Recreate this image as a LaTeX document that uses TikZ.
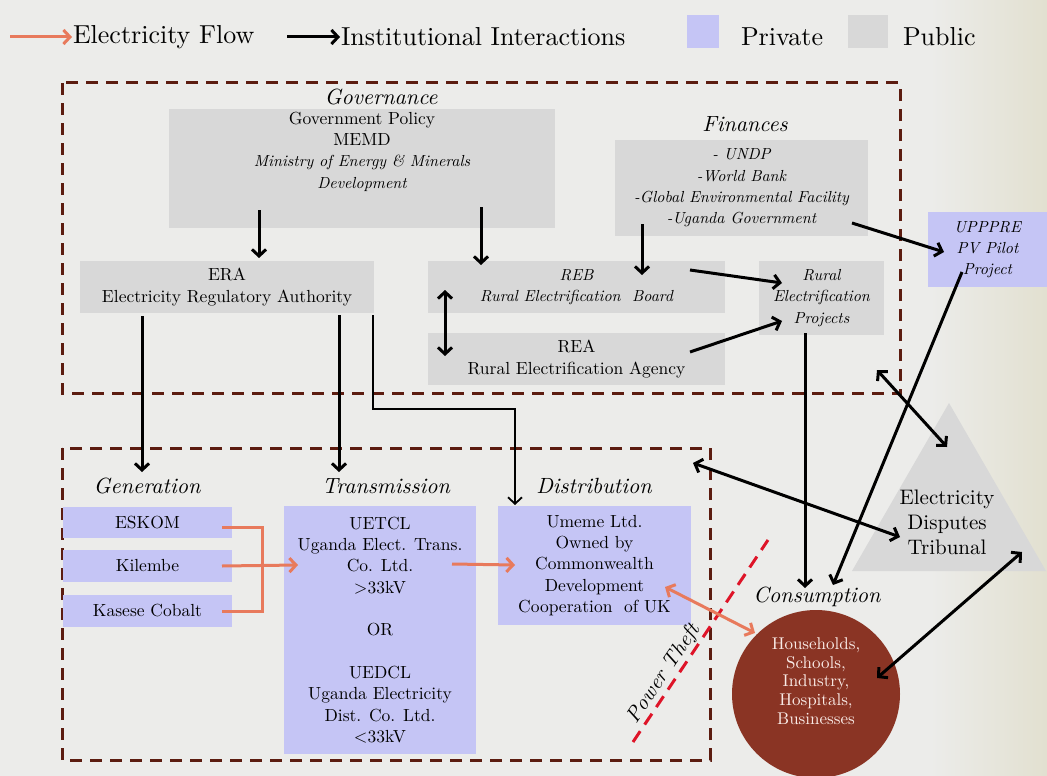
\documentclass[tikz,border=0pt]{standalone}
\usepackage{fontspec}
\setmainfont{lmroman10}[Extension=.otf, UprightFont=*-regular, ItalicFont=*-italic, BoldFont=*-bold, BoldItalicFont=*-bolditalic]
\usetikzlibrary{arrows.meta}
\definecolor{bg}{RGB}{236,236,234}
\definecolor{beige}{RGB}{226,224,208}
\definecolor{pub}{RGB}{216,216,216}
\definecolor{priv}{RGB}{197,197,245}
\definecolor{elec}{RGB}{232,122,92}
\definecolor{framec}{RGB}{92,28,16}
\definecolor{theft}{RGB}{222,20,40}
\definecolor{cons}{RGB}{138,52,36}
\definecolor{constext}{RGB}{250,236,232}
\newcommand{\myit}{\fontsize{16}{21.3}\selectfont\itshape}
\begin{document}
\begin{tikzpicture}[x=1pt,y=-1pt,
  >={Straight Barb[length=6.5pt,width=14pt]},
  every node/.style={inner sep=0pt, outer sep=0pt},
  pubbox/.style={fill=pub, draw=none},
  privbox/.style={fill=priv, draw=none},
  boxtxt/.style={align=center, font=\fontsize{17.5}{21.3}\selectfont},
  head/.style={font=\fontsize{22}{26}\selectfont\itshape},
  legtxt/.style={anchor=west, font=\fontsize{26}{30}\selectfont},
  frame/.style={draw=framec, line width=3pt, dash pattern=on 12pt off 8pt},
  inst/.style={draw=black, line width=3pt},
  thin/.style={draw=black, line width=1.8pt},
  flow/.style={draw=elec, line width=3pt}
]
\useasboundingbox (0,0) rectangle (1047,776);
\fill[bg] (0,0) rectangle (1047,776);
\shade[left color=bg, right color=beige] (930,0) rectangle (1047,776);

% legend
\coordinate (lo1) at (10,37);
\coordinate (lo2) at (72,37);
\draw[flow,->] (lo1) -- (lo2);
\node[legtxt] (legflow) at (73,37) {Electricity Flow};
\coordinate (lb1) at (287,37);
\coordinate (lb2) at (340,37);
\draw[inst,->] (lb1) -- (lb2);
\node[legtxt] (leginst) at (341,37) {Institutional Interactions};
\node[privbox, minimum width=32, minimum height=33] (legpriv) at (703,31.5) {};
\node[legtxt] (legprivt) at (741,37) {Private};
\node[pubbox, minimum width=40, minimum height=33] (legpub) at (868,31.5) {};
\node[legtxt] (legpubt) at (903,37) {Public};

% frames
\draw[frame] (62,83) rectangle (900,393);
\draw[frame] (62,448) rectangle (710,760);

% governance
\node[head] (govhead) at (381,97) {Governance};
\node[pubbox, minimum width=386, minimum height=119] (gov) at (362,168.5) {};
\node[boxtxt, anchor=north] (govtxt) at (362,112) {Government Policy\\ MEMD\\ {\myit Ministry of Energy \& Minerals}\\ {\myit Development}};
\node[head] (finhead) at (745,124) {Finances};
\node[pubbox, boxtxt, minimum width=253, minimum height=96] (fin) at (741.5,188) {\myit - UNDP\\ \myit -World Bank\\ \myit -Global Environmental Facility\\ \myit -Uganda Government};
\node[pubbox, boxtxt, minimum width=294, minimum height=52] (era) at (227,287) {ERA\\ Electricity Regulatory Authority};
\node[pubbox, boxtxt, minimum width=297, minimum height=52] (reb) at (576.5,287) {\myit REB\\ \myit Rural Electrification\ \ Board};
\node[pubbox, boxtxt, minimum width=297, minimum height=52] (rea) at (576.5,359) {REA\\ Rural Electrification Agency};
\node[pubbox, boxtxt, minimum width=125, minimum height=74] (rep) at (821.5,298) {\myit Rural\\ \myit Electrification\\ \myit Projects};
\node[privbox, boxtxt, minimum width=119, minimum height=75] (upp) at (987.5,249.5) {\myit UPPPRE\\ \myit PV Pilot\\ \myit Project};

% supply chain
\node[head] (genhead) at (147,486) {Generation};
\node[head] (trahead) at (386,486) {Transmission};
\node[head] (dishead) at (594,486) {Distribution};
\node[privbox, boxtxt, minimum width=169, minimum height=31] (eskom) at (147.5,522.5) {ESKOM};
\node[privbox, boxtxt, minimum width=169, minimum height=32] (kil) at (147.5,566) {Kilembe};
\node[privbox, boxtxt, minimum width=169, minimum height=32] (kas) at (147.5,611) {Kasese Cobalt};
\node[privbox, boxtxt, minimum width=192, minimum height=248] (uetcl) at (380,630) {UETCL\\ Uganda Elect. Trans.\\ Co. Ltd.\\ >33kV\\[21.3pt] OR\\[21.3pt] UEDCL\\ Uganda Electricity\\ Dist. Co. Ltd.\\ <33kV};
\node[privbox, boxtxt, minimum width=193, minimum height=119] (umeme) at (594.5,565.5) {Umeme Ltd.\\ Owned by\\ Commonwealth\\ Development\\ Cooperation\ \ of UK};

% tribunal
\fill[pub] (949,403) -- (852,571) -- (1046,571) -- cycle;
\node[boxtxt, font=\fontsize{21}{25}\selectfont] (trib) at (947,522) {Electricity\\ Disputes\\ Tribunal};

% consumption
\node[head] (conhead) at (817,597) {Consumption};
\node[circle, fill=cons, minimum size=168] (hh) at (816,694) {};
\node[align=center, text=constext, font=\fontsize{17}{18.8}\selectfont] (hhtxt) at (816,681) {Households,\\ Schools,\\ Industry,\\ Hospitals,\\ Businesses};

% power theft
\coordinate (pt1) at (633,742);
\coordinate (pt2) at (768,540);
\draw[draw=theft, line width=3pt, dash pattern=on 13pt off 8pt] (pt1) -- (pt2);
\node[rotate=56, font=\fontsize{21}{26}\selectfont\itshape] (pttxt) at (664,674) {Power Theft};

% institutional arrows
\coordinate (a1s) at (259,210);
\coordinate (a2s) at (481,207);
\coordinate (a3s) at (642,224);
\draw[inst,->] (a1s) -- (a1s |- 0,258);
\draw[inst,->] (a2s) -- (a2s |- 0,265);
\draw[inst,->] (a3s) -- (a3s |- 0,275);
\coordinate (a4s) at (445,290);
\coordinate (a4e) at (445,356);
\draw[inst,<->] (a4s) -- (a4e);
\coordinate (a5s) at (690,270);
\coordinate (a5e) at (782,283);
\draw[inst,->] (a5s) -- (a5e);
\coordinate (a6s) at (690,352);
\coordinate (a6e) at (782,321);
\draw[inst,->] (a6s) -- (a6e);
\coordinate (a7s) at (852,223);
\coordinate (a7e) at (944,252);
\draw[inst,->] (a7s) -- (a7e);
\coordinate (a8s) at (142,316);
\draw[inst,->] (a8s) -- (a8s |- 0,472);
\coordinate (a9s) at (339,315);
\draw[inst,->] (a9s) -- (a9s |- 0,472);
\coordinate (a10s) at (373,315);
\coordinate (a10e) at (515,505);
\draw[thin,->] (a10s) |- (515,409) -- (a10e);
\coordinate (a11s) at (805,333);
\draw[inst,->] (a11s) -- (a11s |- 0,588);
\coordinate (a12s) at (962,272);
\coordinate (a12e) at (833,585);
\draw[inst,->] (a12s) -- (a12e);
\coordinate (a13s) at (877,370);
\coordinate (a13e) at (947,447);
\draw[inst,<->] (a13s) -- (a13e);
\coordinate (a14s) at (693,463);
\coordinate (a14e) at (900,537);
\draw[inst,<->] (a14s) -- (a14e);
\coordinate (a15s) at (877,678);
\coordinate (a15e) at (1022,552);
\draw[inst,<->] (a15s) -- (a15e);

% electricity flow
\coordinate (e1a) at (222,527);
\coordinate (e1b) at (222,611);
\draw[flow] (e1a) -- (262,527) -- (262,611) -- (e1b);
\coordinate (e2s) at (222,566);
\coordinate (e2e) at (298,565);
\draw[flow,->] (e2s) -- (e2e);
\coordinate (e3s) at (452,564);
\coordinate (e3e) at (515,565);
\draw[flow,->] (e3s) -- (e3e);
\coordinate (e4s) at (665,587);
\coordinate (e4e) at (755,633);
\draw[flow,<->] (e4s) -- (e4e);
\end{tikzpicture}
\end{document}
